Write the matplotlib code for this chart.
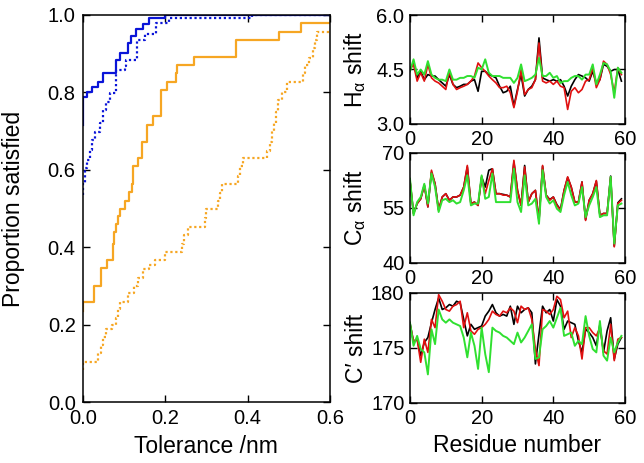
import matplotlib
matplotlib.use("Agg")
import matplotlib.pyplot as plt
import numpy as np

plt.rcParams['font.family'] = ['Liberation Sans', 'DejaVu Sans']
plt.rcParams['mathtext.fontset'] = 'custom'
plt.rcParams['mathtext.rm'] = 'Liberation Sans'
plt.rcParams['mathtext.it'] = 'Liberation Sans'
plt.rcParams['mathtext.bf'] = 'Liberation Sans:bold'

# ---------------- Left panel: cumulative proportion satisfied ----------------
blue_solid_x = [0.0, 0.0, 0.001, 0.0097, 0.022, 0.038, 0.05, 0.082, 0.09, 0.111, 0.116, 0.129, 0.146, 0.162, 0.2, 0.6]
blue_solid_y = [0.716, 0.765, 0.789, 0.800, 0.813, 0.828, 0.851, 0.884, 0.901, 0.927, 0.946, 0.963, 0.977, 0.991, 1.0, 1.0]

blue_dot_x = [0.0, 0.001, 0.006, 0.011, 0.017, 0.022, 0.03, 0.042, 0.05, 0.056, 0.066, 0.082, 0.102, 0.106, 0.131, 0.151, 0.179, 0.21, 0.41, 0.6]
blue_dot_y = [0.535, 0.566, 0.604, 0.626, 0.652, 0.677, 0.699, 0.72, 0.755, 0.776, 0.798, 0.858, 0.867, 0.884, 0.935, 0.952, 0.979, 0.991, 1.0, 1.0]

orange_solid_x = [0.0, 0.0, 0.028, 0.044, 0.058, 0.073, 0.077, 0.082, 0.086, 0.09, 0.103, 0.113, 0.119, 0.121, 0.123, 0.135, 0.143,
                  0.157, 0.171, 0.189, 0.204, 0.226, 0.23, 0.27, 0.373, 0.477, 0.529, 0.6]
orange_solid_y = [0.235, 0.26, 0.30, 0.346, 0.368, 0.41, 0.44, 0.46, 0.48, 0.50, 0.52, 0.543, 0.565, 0.587, 0.61, 0.63, 0.673,
                  0.716, 0.738, 0.806, 0.828, 0.85, 0.871, 0.891, 0.935, 0.957, 0.979, 0.979]

orange_dot_x = [0.0, 0.0, 0.038, 0.045, 0.05, 0.057, 0.07, 0.082, 0.086, 0.09, 0.11, 0.125, 0.135, 0.146, 0.16, 0.175, 0.2,
                0.24, 0.245, 0.256, 0.297, 0.3, 0.329, 0.333, 0.337, 0.377, 0.382, 0.388, 0.448, 0.454, 0.46, 0.465,
                0.47, 0.475, 0.483, 0.495, 0.535, 0.54, 0.55, 0.56, 0.564, 0.568, 0.6]
orange_dot_y = [0.084, 0.105, 0.127, 0.148, 0.17, 0.19, 0.20, 0.218, 0.24, 0.26, 0.283, 0.30, 0.32, 0.344, 0.355, 0.368, 0.389,
                0.41, 0.432, 0.454, 0.477, 0.499, 0.52, 0.54, 0.564, 0.585, 0.61, 0.63, 0.65, 0.673, 0.70, 0.72,
                0.75, 0.78, 0.80, 0.828, 0.85, 0.87, 0.89, 0.914, 0.935, 0.957, 0.957]

# ---------------- Right panels: chemical shifts ----------------
residues = list(range(60))

ha_black = [4.50, 4.68, 4.27, 4.45, 4.22, 4.36, 4.32, 4.32, 4.22, 4.13, 4.04, 4.36, 4.09, 4.00, 4.04, 4.09, 4.09, 4.18, 4.22, 3.90,
            4.45, 4.45, 4.36, 4.32, 4.27, 4.04, 3.86, 3.90, 4.04, 3.49, 3.95, 4.36, 3.77, 3.95, 4.04, 4.22, 5.37, 4.27, 4.22, 4.18,
            4.22, 4.18, 4.22, 4.04, 3.77, 4.04, 4.22, 4.36, 4.32, 4.27, 4.18, 4.45, 4.13, 4.22, 4.64, 4.59, 4.45, 4.50, 4.50, 4.18]
ha_red = [4.50, 4.64, 4.18, 4.41, 4.18, 4.64, 4.27, 4.18, 4.13, 4.04, 3.95, 4.45, 4.09, 3.95, 4.00, 4.04, 4.09, 4.18, 4.32, 4.68,
          4.55, 4.45, 4.32, 4.22, 4.13, 4.00, 4.00, 4.04, 3.86, 3.45, 3.90, 4.50, 3.81, 3.95, 4.00, 4.22, 5.23, 4.18, 4.13, 4.18,
          4.09, 4.18, 4.04, 4.00, 3.40, 3.90, 4.00, 3.86, 3.95, 4.18, 4.22, 4.55, 4.00, 4.22, 4.73, 4.64, 4.36, 3.86, 4.55, 4.36]
ha_green = [4.45, 4.78, 4.36, 4.50, 4.36, 4.73, 4.36, 4.27, 4.22, 4.22, 4.18, 4.50, 4.22, 4.22, 4.27, 4.27, 4.32, 4.32, 4.27, 4.55,
            4.50, 4.78, 4.41, 4.32, 4.32, 4.32, 4.27, 4.27, 4.27, 4.13, 4.27, 4.64, 4.18, 4.22, 4.27, 4.36, 4.82, 4.32, 4.32, 4.41,
            4.27, 4.32, 4.13, 4.18, 4.18, 4.27, 4.32, 4.32, 4.22, 4.36, 4.36, 4.64, 4.09, 4.36, 4.68, 4.64, 4.45, 3.72, 4.55, 4.41]

ca_black = [62.5, 53.5, 56.2, 57.5, 61.2, 55.3, 64.8, 61.6, 54.4, 58.0, 58.9, 57.1, 58.0, 58.0, 58.5, 60.7, 66.2, 56.2, 56.6, 55.7,
            63.5, 60.7, 65.3, 65.7, 58.9, 58.9, 58.7, 58.5, 58.0, 67.5, 59.8, 55.7, 66.6, 56.6, 58.9, 59.8, 51.6, 66.4, 58.5, 57.3,
            58.0, 55.9, 54.6, 59.8, 63.3, 60.7, 56.6, 56.6, 62.1, 51.8, 57.1, 58.9, 62.3, 53.0, 53.5, 53.5, 63.7, 44.6, 56.4, 57.5]
ca_red = [62.5, 53.5, 56.2, 57.5, 61.2, 55.3, 65.3, 61.6, 54.4, 58.0, 58.9, 57.1, 58.0, 58.0, 58.5, 60.7, 66.6, 56.2, 56.6, 55.7,
          63.5, 58.9, 62.5, 65.7, 58.9, 58.9, 58.5, 58.5, 58.0, 68.0, 59.8, 55.7, 66.2, 56.6, 58.9, 59.8, 51.6, 66.6, 58.5, 57.1,
          58.0, 55.7, 54.4, 59.8, 63.5, 60.7, 56.6, 56.6, 62.1, 51.6, 57.1, 58.9, 62.5, 53.0, 53.5, 53.5, 63.5, 44.4, 56.2, 57.1]
ca_green = [63.0, 53.0, 56.6, 58.0, 61.6, 56.2, 64.4, 60.7, 53.9, 57.1, 57.5, 56.6, 57.1, 56.2, 56.6, 59.8, 63.9, 55.7, 56.2, 56.2,
            63.9, 57.5, 58.0, 64.4, 56.6, 56.6, 56.6, 56.6, 56.6, 65.7, 56.6, 53.9, 63.9, 55.7, 56.2, 57.5, 50.7, 65.3, 58.0, 56.2,
            57.1, 54.8, 53.9, 58.5, 62.1, 58.5, 55.7, 56.2, 60.7, 52.5, 55.7, 58.0, 60.7, 52.5, 53.0, 53.0, 63.5, 45.3, 55.7, 56.2]

co_black = [177.3, 175.5, 175.8, 174.3, 175.5, 175.95, 177.3, 178.5, 179.55, 178.5, 178.65, 178.95, 178.8, 179.25, 179.1, 177.6,
            176.1, 177.15, 176.7, 176.85, 177.0, 177.9, 178.35, 178.95, 178.2, 177.9, 178.05, 177.9, 178.8, 177.15, 178.8, 178.2,
            178.5, 178.65, 178.2, 173.55, 176.25, 178.8, 178.2, 178.5, 177.45, 179.4, 178.8, 176.7, 177.45, 177.3, 177.15, 175.65,
            174.6, 176.7, 176.4, 175.95, 175.2, 177.15, 174.6, 176.55, 177.75, 174.0, 175.35, 175.95]
co_red = [177.15, 175.65, 175.8, 173.7, 175.8, 174.6, 177.6, 176.85, 179.85, 179.25, 178.5, 178.35, 178.8, 178.95, 179.25, 176.85,
          178.2, 176.55, 176.25, 176.7, 176.85, 177.15, 177.6, 178.35, 178.05, 177.9, 178.35, 178.2, 178.65, 178.35, 177.3, 178.8,
          178.5, 178.65, 177.6, 174.9, 173.4, 178.5, 178.35, 178.05, 178.5, 179.7, 179.4, 177.75, 178.35, 175.95, 176.85, 176.1,
          174.0, 176.85, 176.85, 176.4, 176.1, 176.85, 174.75, 174.45, 177.15, 173.85, 175.8, 175.95]
co_green = [177.3, 175.2, 176.1, 174.9, 174.6, 172.6, 176.7, 175.35, 178.5, 177.6, 177.3, 177.6, 177.3, 177.15, 177.0, 175.95,
            174.15, 176.4, 175.2, 173.1, 176.85, 174.45, 172.8, 176.85, 176.55, 176.4, 176.1, 175.95, 175.65, 175.35, 176.4, 175.5,
            175.95, 176.55, 177.15, 174.0, 174.15, 176.7, 177.0, 177.45, 176.85, 177.75, 178.65, 176.1, 176.25, 176.4, 175.2, 175.65,
            175.35, 177.9, 176.1, 174.9, 174.6, 177.45, 174.3, 173.85, 175.95, 174.6, 175.5, 176.1]

left_xticks = [0.0, 0.2, 0.4, 0.6]
left_yticks = [0.0, 0.2, 0.4, 0.6, 0.8, 1.0]
right_xticks = [0, 20, 40, 60]
ha_yticks = [3.0, 4.5, 6.0]
ca_yticks = [40, 55, 70]
co_yticks = [170, 175, 180]

BLUE = '#0a14d8'
ORANGE = '#f6a623'
RED = '#e01010'
GREEN = '#30e030'

fig = plt.figure(figsize=(6.44, 4.63), dpi=100)

def style(ax, pad=5):
    for s in ax.spines.values():
        s.set_linewidth(1.1)
    ax.tick_params(direction='in', top=True, right=True, length=5, width=1.0,
                   labelsize=14.5, pad=pad)

axL = fig.add_axes([0.1284, 0.1307, 0.384, 0.837])
axL.plot(blue_solid_x, blue_solid_y, drawstyle='steps-post', color=BLUE, lw=1.6)
axL.plot(blue_dot_x, blue_dot_y, drawstyle='steps-post', color=BLUE, lw=1.6, ls=(0, (1, 1.2)))
axL.plot(orange_solid_x, orange_solid_y, drawstyle='steps-post', color=ORANGE, lw=1.6)
axL.plot(orange_dot_x, orange_dot_y, drawstyle='steps-post', color=ORANGE, lw=1.6, ls=(0, (1, 1.2)))
axL.set_xlim(0, 0.6)
axL.set_ylim(0, 1.0)
axL.set_xticks(left_xticks)
axL.set_yticks(left_yticks)
axL.set_xticklabels([f'{v:.1f}' for v in left_xticks])
axL.set_yticklabels([f'{v:.1f}' for v in left_yticks])
axL.set_xlabel('Tolerance /nm', fontsize=16.5, labelpad=5)
axL.set_ylabel('Proportion satisfied', fontsize=16.5)
axL.yaxis.set_label_coords(-0.233, 0.5)
style(axL)

panels = [
    ([0.6366, 0.7322, 0.3339, 0.2354], ha_black, ha_red, ha_green, ha_yticks, r'H$_{\alpha}$ shift', '{:.1f}'),
    ([0.6366, 0.4320, 0.3339, 0.2376], ca_black, ca_red, ca_green, ca_yticks, r'C$_{\alpha}$ shift', '{:d}'),
    ([0.6366, 0.1296, 0.3339, 0.2376], co_black, co_red, co_green, co_yticks, 'C\u2032 shift', '{:d}'),
]
axes_r = []
for rect, yb, yr, yg, yt, lab, fmt in panels:
    ax = fig.add_axes(rect)
    ax.plot(residues, yb, color='black', lw=1.2)
    ax.plot(residues, yr, color=RED, lw=1.2)
    ax.plot(residues, yg, color=GREEN, lw=1.4)
    ax.set_xlim(0, 60)
    ax.set_ylim(yt[0], yt[-1])
    ax.set_xticks(right_xticks)
    ax.set_yticks(yt)
    ax.set_yticklabels([fmt.format(v) for v in yt])
    ax.set_ylabel(lab, fontsize=16.5)
    style(ax, pad=4)
    axes_r.append(ax)

axes_r[-1].set_xlabel('Residue number', fontsize=16.5, labelpad=5)
for ax in axes_r:
    ax.yaxis.set_label_coords(-0.195, 0.5)

fig.savefig('out.png', dpi=100)
